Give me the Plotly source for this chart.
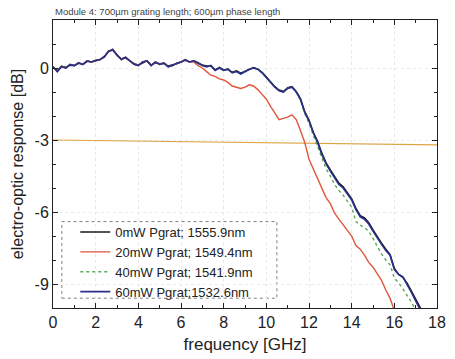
import plotly.graph_objects as go

# ---- data ----
freq = [round(i * 0.2, 1) for i in range(88)]  # 0.0 ... 17.4 GHz

resp_0mW = [0.05, -0.12, 0.08, 0.02, 0.12, 0.1, 0.22, 0.15, 0.28, 0.25,
            0.32, 0.35, 0.48, 0.68, 0.78, 0.52, 0.38, 0.42, 0.3, 0.18,
            0.12, 0.22, 0.3, 0.12, 0.22, 0.18, 0.2, 0.08, 0.12, 0.18,
            0.25, 0.32, 0.25, 0.3, 0.22, 0.12, 0.08, 0.1, -0.08, 0.02,
            -0.08, -0.05, -0.18, -0.12, -0.22, -0.15, -0.05, 0.02, -0.05, -0.18,
            -0.38, -0.58, -0.78, -0.92, -0.98, -0.82, -0.78, -0.98, -1.28, -1.82,
            -2.18, -2.68, -3.05, -3.55, -3.95, -4.25, -4.55, -4.8, -4.95, -5.2,
            -5.45, -5.85, -6.15, -6.25, -6.45, -6.75, -7.05, -7.3, -7.55, -7.78,
            -8.35, -8.6, -8.72, -8.98, -9.3, -9.65, -10.0, -10.3]

resp_20mW = [0.05, -0.15, 0.05, 0.0, 0.15, 0.1, 0.2, 0.15, 0.3, 0.25,
             0.3, 0.35, 0.45, 0.7, 0.75, 0.55, 0.35, 0.45, 0.3, 0.15,
             0.1, 0.25, 0.3, 0.1, 0.25, 0.15, 0.2, 0.05, 0.1, 0.2,
             0.25, 0.35, 0.25, 0.25, 0.1, 0.0, -0.15, -0.3, -0.35, -0.45,
             -0.5, -0.6, -0.75, -0.8, -0.85, -0.8, -0.7, -0.75, -0.9, -1.1,
             -1.3, -1.6, -1.85, -2.15, -2.1, -2.05, -1.95, -2.15, -2.6, -3.1,
             -3.8, -4.2, -4.6, -5.0, -5.4, -5.65, -6.05, -6.3, -6.55, -6.75,
             -7.0, -7.4, -7.55, -7.8, -8.1, -8.3, -8.55, -8.85, -9.25, -9.6,
             -10.1]

resp_40mW = [0.05, -0.15, 0.05, 0.0, 0.15, 0.1, 0.2, 0.15, 0.3, 0.25,
             0.3, 0.35, 0.45, 0.7, 0.75, 0.55, 0.35, 0.45, 0.3, 0.15,
             0.1, 0.25, 0.3, 0.1, 0.25, 0.15, 0.2, 0.05, 0.1, 0.2,
             0.25, 0.35, 0.25, 0.3, 0.2, 0.1, 0.05, 0.1, -0.1, 0.0,
             -0.1, -0.05, -0.2, -0.15, -0.25, -0.15, -0.05, 0.0, -0.05, -0.2,
             -0.4, -0.6, -0.8, -0.95, -1.0, -0.85, -0.8, -1.0, -1.35, -1.9,
             -2.3, -2.8, -3.25, -3.75, -4.2, -4.5, -4.85, -5.1, -5.3, -5.55,
             -5.8, -6.4, -6.55, -6.65, -6.8, -7.1, -7.45, -7.75, -8.0, -8.2,
             -8.75, -8.95, -9.2, -9.45, -9.75, -10.1]

resp_60mW = [0.05, -0.15, 0.05, 0.0, 0.15, 0.1, 0.2, 0.15, 0.3, 0.25,
             0.3, 0.35, 0.45, 0.7, 0.75, 0.55, 0.35, 0.45, 0.3, 0.15,
             0.1, 0.25, 0.3, 0.1, 0.25, 0.15, 0.2, 0.05, 0.1, 0.2,
             0.25, 0.35, 0.25, 0.3, 0.2, 0.1, 0.05, 0.1, -0.1, 0.0,
             -0.1, -0.05, -0.2, -0.15, -0.25, -0.15, -0.05, 0.0, -0.05, -0.2,
             -0.4, -0.6, -0.8, -0.95, -1.0, -0.85, -0.8, -1.0, -1.3, -1.85,
             -2.2, -2.7, -3.1, -3.6, -4.0, -4.3, -4.6, -4.85, -5.0, -5.25,
             -5.5, -5.9, -6.2, -6.3, -6.5, -6.8, -7.1, -7.35, -7.6, -7.8,
             -8.4, -8.6, -8.7, -9.0, -9.35, -9.7, -10.05]

ref_freq = [0, 18]
ref_level = [-3.0, -3.2]

series_names = ["0mW Pgrat; 1555.9nm", "20mW Pgrat; 1549.4nm",
                "40mW Pgrat; 1541.9nm", "60mW Pgrat;1532.6nm"]

title_text = "Module 4: 700\u00b5m grating length; 600\u00b5m phase length"

FONT = "Liberation Sans, Arial, sans-serif"

fig = go.Figure()

fig.add_trace(go.Scatter(x=ref_freq, y=ref_level, mode="lines",
                         line=dict(color="#dca544", width=1.2),
                         showlegend=False, hoverinfo="skip"))

fig.add_trace(go.Scatter(x=freq[:len(resp_0mW)], y=resp_0mW, mode="lines",
                         name=series_names[0],
                         line=dict(color="#1a1a1a", width=1.6)))
fig.add_trace(go.Scatter(x=freq[:len(resp_20mW)], y=resp_20mW, mode="lines",
                         name=series_names[1],
                         line=dict(color="#e0553a", width=1.4)))
fig.add_trace(go.Scatter(x=freq[:len(resp_40mW)], y=resp_40mW, mode="lines",
                         name=series_names[2],
                         line=dict(color="#5aaa5a", width=1.4, dash="dot")))
fig.add_trace(go.Scatter(x=freq[:len(resp_60mW)], y=resp_60mW, mode="lines",
                         name=series_names[3],
                         line=dict(color="#2b2f8c", width=1.6)))

# dotted legend frame
fig.add_shape(type="rect", xref="paper", yref="paper",
              x0=0.023, x1=0.583, y0=0.034, y1=0.30,
              line=dict(color="#808080", width=1, dash="dot"),
              fillcolor="white", layer="below")

fig.add_annotation(text=title_text, xref="paper", yref="paper",
                   x=0.0, y=1.0, xanchor="left", yanchor="bottom",
                   yshift=1, showarrow=False,
                   font=dict(size=9.5, color="#444", family=FONT))

fig.update_layout(
    width=455, height=359,
    margin=dict(l=53, r=9, t=20, b=49),
    paper_bgcolor="white", plot_bgcolor="white",
    font=dict(family=FONT, color="#222"),
    showlegend=True,
    legend=dict(x=0.058, y=0.316, xanchor="left", yanchor="top",
                bgcolor="rgba(0,0,0,0)", borderwidth=0,
                font=dict(size=13, family=FONT, color="#222"),
                itemwidth=30, tracegroupgap=0),
    xaxis=dict(range=[0, 18], dtick=2, tick0=0,
               ticks="inside", ticklen=5, tickcolor="#222",
               minor=dict(dtick=1, ticks="inside", ticklen=3, tickcolor="#222",
                          showgrid=False),
               showline=True, linecolor="#222", linewidth=1, mirror="allticks",
               showgrid=True, gridcolor="#e8e8e8", griddash="dot",
               zeroline=False,
               tickfont=dict(size=16, family=FONT),
               title=dict(text="frequency [GHz]", font=dict(size=17, family=FONT),
                          standoff=7)),
    yaxis=dict(range=[-10, 2], dtick=3, tick0=0,
               tickvals=[-9, -6, -3, 0], ticktext=["-9", "-6", "-3", "0"],
               ticks="inside", ticklen=5, tickcolor="#222",
               minor=dict(dtick=1, ticks="inside", ticklen=3, tickcolor="#222",
                          showgrid=False),
               showline=True, linecolor="#222", linewidth=1, mirror="allticks",
               showgrid=True, gridcolor="#ececec", griddash="dot",
               zeroline=False,
               tickfont=dict(size=16, family=FONT),
               title=dict(text="electro-optic response [dB]",
                          font=dict(size=16, family=FONT), standoff=6)),
)

fig.write_html("out.html")
